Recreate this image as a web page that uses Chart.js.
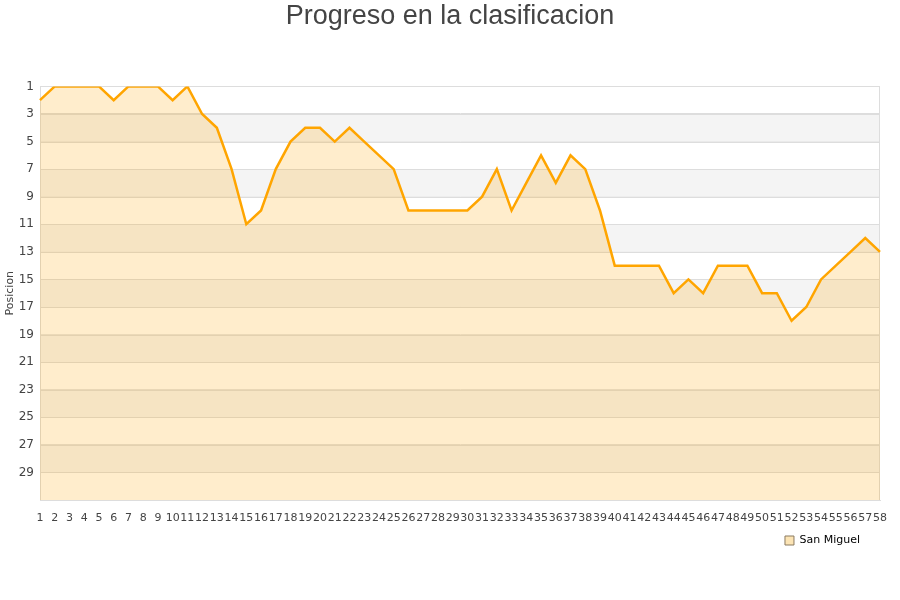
<!DOCTYPE html>
<html>
<head>
<meta charset="utf-8">
<script src="https://cdn.jsdelivr.net/npm/chart.js@4"></script>
<style>
  html, body { margin: 0; padding: 0; background: #fff; }
  #wrap { width: 900px; height: 600px; }
</style>
</head>
<body>
<div id="wrap"><canvas id="chart-area"></canvas></div>
<script>
// jornadas 1..58
var jornadas = [];
for (var i = 1; i <= 58; i++) jornadas.push(String(i));

// posicion de San Miguel en cada jornada
var posiciones = [
  2, 1, 1, 1, 1, 2, 1, 1, 1, 2,
  1, 3, 4, 7, 11, 10, 7, 5, 4, 4,
  5, 4, 5, 6, 7, 10, 10, 10, 10, 10,
  9, 7, 10, 8, 6, 8, 6, 7, 10, 14,
  14, 14, 14, 16, 15, 16, 14, 14, 14, 16,
  16, 18, 17, 15, 14, 13, 12, 13
];

var equipo = "San Miguel";
var posMin = 1;
var posMax = 31;

// bandas grises alternas detras de la serie
var bands = {
  id: 'bands',
  afterLayout: function(chart) {
    // legend sits a bit left of the plot edge, title centred on the page
    if (chart.legend) chart.legend.right -= 15;
    if (chart.titleBlock) chart.titleBlock.right += 20;
  },
  beforeDatasetsDraw: function(chart) {
    var ctx = chart.ctx, area = chart.chartArea, y = chart.scales.y;
    ctx.save();
    for (var v = posMin; v < posMax; v += 2) {
      if (((v - posMin) / 2) % 2 === 1) {
        var y0 = y.getPixelForValue(v), y1 = y.getPixelForValue(v + 2);
        ctx.fillStyle = '#f4f4f4';
        ctx.fillRect(area.left, y0, area.right - area.left, y1 - y0);
      }
    }
    // redraw grid lines on top of bands
    ctx.strokeStyle = '#dddddd';
    ctx.lineWidth = 1;
    for (var v = posMin + 2; v < posMax; v += 2) {
      var py = Math.round(y.getPixelForValue(v)) + 0.5;
      ctx.beginPath();
      ctx.moveTo(area.left, py);
      ctx.lineTo(area.right, py);
      ctx.stroke();
    }
    ctx.strokeRect(Math.round(area.left) + 0.5, Math.round(area.top) + 0.5,
      Math.round(area.right - area.left) - 1, Math.round(area.bottom - area.top));
    ctx.restore();
  }
};

var ctx = document.getElementById("chart-area").getContext("2d");
var myChart = new Chart(ctx, {
  type: 'line',
  data: {
    labels: jornadas,
    datasets: [{
      label: equipo,
      data: posiciones,
      borderColor: '#FFA500',
      backgroundColor: 'rgba(255,165,0,0.2)',
      borderWidth: 2.5,
      pointRadius: 0,
      tension: 0,
      fill: 'start'
    }]
  },
  options: {
    responsive: true,
    maintainAspectRatio: false,
    animation: false,
    layout: { padding: { left: 0, right: 20, top: 0, bottom: 44 } },
    plugins: {
      title: {
        display: true,
        text: 'Progreso en la clasificacion',
        color: '#444',
        font: { family: 'Liberation Sans', size: 27, weight: 'normal' },
        padding: { top: 0, bottom: 54 }
      },
      legend: {
        position: 'bottom',
        align: 'end',
        labels: {
          boxWidth: 9,
          boxHeight: 9,
          padding: 5,
          color: '#222',
          font: { family: 'DejaVu Sans', size: 11 },
          generateLabels: function(chart) {
            return chart.data.datasets.map(function(ds, i) {
              return {
                text: ds.label,
                fillStyle: '#fce4b4',
                strokeStyle: '#8a7a60',
                lineWidth: 1,
                datasetIndex: i
              };
            });
          }
        }
      },
      tooltip: { enabled: false }
    },
    scales: {
      x: {
        offset: false,
        grid: { display: false },
        border: { display: true, color: '#dddddd' },
        ticks: {
          autoSkip: false,
          maxRotation: 0,
          minRotation: 0,
          padding: 4,
          color: '#444',
          font: { family: 'DejaVu Sans', size: 11 }
        },
        afterFit: function(scale) { scale.height = 30; }
      },
      y: {
        reverse: true,
        min: posMin,
        max: posMax,
        grid: { color: '#dddddd', drawTicks: false },
        border: { display: true, color: '#dddddd' },
        title: {
          display: true,
          text: 'Posicion',
          color: '#444',
          font: { family: 'DejaVu Sans', size: 11 },
          padding: { top: 4, bottom: 0 }
        },
        ticks: {
          stepSize: 2,
          padding: 6,
          color: '#444',
          font: { family: 'DejaVu Sans', size: 12 },
          callback: function(v) { return v === posMax ? '' : v; }
        },
        afterFit: function(scale) { scale.width = 40; }
      }
    }
  },
  plugins: [bands]
});
</script>
</body>
</html>
